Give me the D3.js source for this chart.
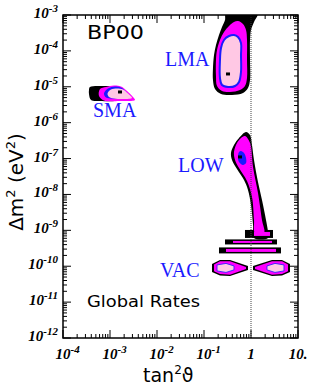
<!DOCTYPE html>
<html>
<head>
<meta charset="utf-8">
<script src="https://cdn.jsdelivr.net/npm/d3@7"></script>
<style>
  body { margin: 0; background: #fff; }
</style>
</head>
<body>
<div class="chart"></div>
<script>
// contour outlines, as [log10 tan^2, log10 dm^2]
const lmaBlack = [[-0.53,-2.95],[0.14,-2.95],[0.064,-3.195],[0,-3.418],[-0.021,-3.696],[-0.021,-4.253],[-0.021,-4.811],[-0.064,-5.033],[-0.170,-5.173],[-0.404,-5.228],[-0.638,-5.201],[-0.766,-5.061],[-0.809,-4.811],[-0.809,-4.476],[-0.787,-4.114],[-0.745,-3.836],[-0.681,-3.557],[-0.617,-3.334],[-0.553,-3.139]];
const lmaMagenta = [[-0.277,-3.167],[-0.170,-3.251],[-0.106,-3.418],[-0.085,-3.696],[-0.085,-4.253],[-0.085,-4.755],[-0.128,-4.978],[-0.234,-5.089],[-0.447,-5.145],[-0.617,-5.117],[-0.723,-4.978],[-0.745,-4.699],[-0.745,-4.253],[-0.723,-3.975],[-0.660,-3.696],[-0.574,-3.474],[-0.468,-3.306],[-0.362,-3.195]];
const lmaPink = [[-0.362,-3.557],[-0.277,-3.613],[-0.213,-3.780],[-0.213,-4.114],[-0.213,-4.588],[-0.255,-4.866],[-0.340,-4.978],[-0.489,-5.006],[-0.617,-4.950],[-0.660,-4.755],[-0.660,-4.253],[-0.638,-3.919],[-0.574,-3.696],[-0.468,-3.585]];

const lowBlack = [[-0.106,-6.259],[-0.021,-6.343],[0.021,-6.621],[0.064,-7.039],[0.149,-7.652],[0.234,-8.153],[0.319,-8.710],[0.362,-9.045],[0.362,-9.212],[0.064,-9.212],[0.043,-8.850],[0,-8.292],[-0.064,-7.875],[-0.149,-7.596],[-0.298,-7.290],[-0.404,-7.039],[-0.426,-6.844],[-0.362,-6.621],[-0.255,-6.426]];
const lowMagenta = [[-0.128,-6.370],[-0.021,-6.565],[0.043,-7.234],[0.149,-7.958],[0.234,-8.710],[0.277,-9.072],[0.085,-9.072],[0.064,-8.710],[0.021,-8.070],[-0.085,-7.624],[-0.255,-7.262],[-0.340,-7.039],[-0.362,-6.816],[-0.298,-6.565],[-0.213,-6.426]];
const lowBlue = [[-0.213,-6.788],[-0.149,-6.844],[-0.106,-6.983],[-0.106,-7.123],[-0.170,-7.178],[-0.255,-7.095],[-0.277,-6.955],[-0.255,-6.816]];

// striped bands under LOW: [log tan^2 from, to, log dm^2 from, to]
const bandsBlack = [[-0.128,0.468,-9.212,-8.990],[-0.553,0.553,-9.393,-9.253],[-0.681,0.638,-9.643,-9.476]];
const bandsMagenta = [[0.064,0.404,-9.156,-9.045],[-0.383,0.447,-9.351,-9.295],[-0.532,0.532,-9.602,-9.518]];

const vacLeftBlack = [[-0.830,-9.936],[-0.660,-9.825],[-0.447,-9.825],[-0.064,-9.992],[-0.064,-10.103],[-0.447,-10.270],[-0.660,-10.256],[-0.830,-10.159]];
const vacLeftMagenta = [[-0.787,-9.950],[-0.660,-9.860],[-0.447,-9.860],[-0.106,-10.020],[-0.106,-10.080],[-0.447,-10.235],[-0.660,-10.220],[-0.787,-10.140]];
const vacLeftPink = [[-0.723,-9.964],[-0.532,-9.922],[-0.362,-9.992],[-0.362,-10.103],[-0.532,-10.173],[-0.723,-10.131]];
const vacRightBlack = [[0.043,-9.992],[0.447,-9.825],[0.660,-9.825],[0.830,-9.936],[0.830,-10.159],[0.660,-10.256],[0.447,-10.270],[0.043,-10.103]];
const vacRightMagenta = [[0.085,-10.020],[0.447,-9.860],[0.660,-9.860],[0.787,-9.950],[0.787,-10.140],[0.660,-10.220],[0.447,-10.235],[0.085,-10.080]];
const vacRightPink = [[0.340,-9.992],[0.510,-9.922],[0.702,-9.964],[0.702,-10.131],[0.510,-10.173],[0.340,-10.103]];

const smaBlack = [[-3.426,-5.006],[-3.128,-4.978],[-2.957,-4.992],[-2.872,-5.033],[-2.745,-5.340],[-2.894,-5.396],[-3.213,-5.396],[-3.404,-5.368],[-3.447,-5.201],[-3.447,-5.089]];
const smaMagenta = [[-3.213,-5.061],[-3.085,-5.006],[-2.915,-4.964],[-2.766,-4.992],[-2.638,-5.117],[-2.511,-5.284],[-2.468,-5.368],[-2.787,-5.396],[-3.128,-5.382],[-3.234,-5.256]];
const smaBlue = [[-3.128,-5.187],[-3.043,-5.047],[-2.894,-4.992],[-2.766,-5.019],[-2.660,-5.145],[-2.596,-5.284],[-2.766,-5.326],[-2.957,-5.326],[-3.085,-5.298]];
const smaPink = [[-3.053,-5.187],[-2.979,-5.075],[-2.851,-5.047],[-2.723,-5.075],[-2.617,-5.187],[-2.532,-5.312],[-2.702,-5.340],[-2.915,-5.326],[-3.021,-5.284]];

// best fit points (LMA, LOW, SMA)
const bestFits = [[-0.489,-4.643],[-0.234,-6.955],[-2.787,-5.145]];

const xTickLabels = [["10","-4"],["10","-3"],["10","-2"],["10","-1"],["1",""],["10.",""]];
const yTickExps = [-3,-4,-5,-6,-7,-8,-9,-10,-11,-12];

const W = 313, H = 388;
const pLeft = 63, pRight = 298, pTop = 15, pBottom = 338;

const x = d3.scaleLog().domain([1e-4, 10]).range([pLeft, pRight]);
const y = d3.scaleLog().domain([1e-12, 1e-3]).range([pBottom, pTop]);

const svg = d3.select(".chart").append("svg")
  .attr("width", W)
  .attr("height", H);

svg.append("defs").append("clipPath").attr("id", "plotClip")
  .append("rect")
  .attr("x", pLeft).attr("y", pTop)
  .attr("width", pRight - pLeft).attr("height", pBottom - pTop);

const plot = svg.append("g").attr("clip-path", "url(#plotClip)");

const shape = d3.line()
  .x(d => x(10 ** d[0]))
  .y(d => y(10 ** d[1]))
  .curve(d3.curveCatmullRomClosed.alpha(0.5));
const sharp = d3.line()
  .x(d => x(10 ** d[0]))
  .y(d => y(10 ** d[1]))
  .curve(d3.curveLinearClosed);

const BLACK = "#000", MAG = "#ff00ff", BLUE = "#1a1aff", PINK = "#ffc8e4";

function blob(pts, fill, stroke, sw, gen) {
  plot.append("path")
    .attr("d", (gen || shape)(pts))
    .attr("fill", fill)
    .attr("stroke", stroke || "none")
    .attr("stroke-width", sw || 0);
}

function bands(list, fill) {
  plot.append("g").selectAll("rect")
    .data(list)
    .enter().append("rect")
    .attr("x", d => x(10 ** d[0]))
    .attr("width", d => x(10 ** d[1]) - x(10 ** d[0]))
    .attr("y", d => y(10 ** d[3]))
    .attr("height", d => y(10 ** d[2]) - y(10 ** d[3]))
    .attr("fill", fill);
}

// SMA
blob(smaBlack, BLACK);
blob(smaMagenta, MAG);
blob(smaBlue, BLUE);
blob(smaPink, PINK);

// LMA
blob(lmaBlack, BLACK);
blob(lmaMagenta, MAG);
blob(lmaPink, PINK, BLUE, 2);

// LOW and the stripes below it
bands(bandsBlack, BLACK);
blob(lowBlack, BLACK);
blob(lowMagenta, MAG);
blob(lowBlue, BLUE);
bands(bandsMagenta, MAG);

// VAC islands
blob(vacLeftBlack, BLACK, null, 0, sharp);
blob(vacLeftMagenta, MAG, null, 0, sharp);
blob(vacLeftPink, PINK, BLUE, 0.8, sharp);
blob(vacRightBlack, BLACK, null, 0, sharp);
blob(vacRightMagenta, MAG, null, 0, sharp);
blob(vacRightPink, PINK, BLUE, 0.8, sharp);

// tan^2 = 1 dotted line
plot.append("line")
  .attr("x1", x(1)).attr("x2", x(1))
  .attr("y1", pTop).attr("y2", pBottom)
  .attr("stroke", "#444")
  .attr("stroke-width", 1)
  .attr("stroke-dasharray", "1,1");

// best fit dots
plot.selectAll("rect.fit")
  .data(bestFits)
  .enter().append("rect")
  .attr("class", "fit")
  .attr("x", d => x(10 ** d[0]) - 2)
  .attr("y", d => y(10 ** d[1]) - 1.5)
  .attr("width", 4)
  .attr("height", 3)
  .attr("fill", BLACK);

// frame
svg.append("rect")
  .attr("x", pLeft).attr("y", pTop)
  .attr("width", pRight - pLeft).attr("height", pBottom - pTop)
  .attr("fill", "none")
  .attr("stroke", "#000")
  .attr("stroke-width", 1.5);

// ticks on all four sides, pointing in
const isMajor = v => Math.abs(Math.log10(v) - Math.round(Math.log10(v))) < 1e-6;
const ticks = svg.append("g").attr("stroke", "#000").attr("stroke-width", 1);
x.ticks().forEach(v => {
  const len = isMajor(v) ? 8 : 4;
  ticks.append("line").attr("x1", x(v)).attr("x2", x(v)).attr("y1", pBottom).attr("y2", pBottom - len);
  ticks.append("line").attr("x1", x(v)).attr("x2", x(v)).attr("y1", pTop).attr("y2", pTop + len);
});
y.ticks().forEach(v => {
  const len = isMajor(v) ? 8 : 4;
  ticks.append("line").attr("x1", pLeft).attr("x2", pLeft + len).attr("y1", y(v)).attr("y2", y(v));
  ticks.append("line").attr("x1", pRight).attr("x2", pRight - len).attr("y1", y(v)).attr("y2", y(v));
});

// tick labels: bold italic serif with superscript
const tickFont = "'Liberation Serif', 'Times New Roman', serif";
function label(g, txt, size) {
  return g.append("text")
    .attr("font-family", tickFont)
    .attr("font-weight", "bold")
    .attr("font-style", "italic")
    .attr("font-size", size)
    .attr("fill", "#000")
    .text(txt);
}

const tl = svg.append("g");
yTickExps.forEach(e => {
  const yy = y(10 ** e) + 3;
  const sup = label(tl, String(e), 11).attr("x", 58).attr("y", yy - 6).attr("text-anchor", "end");
  const w = sup.node().getComputedTextLength();
  label(tl, "10", 15).attr("x", 58 - w).attr("y", yy).attr("text-anchor", "end");
});
xTickLabels.forEach((t, i) => {
  const xx = x(10 ** (i - 4));
  const base = label(tl, t[0], 15).attr("x", xx).attr("y", 359).attr("text-anchor", "middle");
  const bw = base.node().getComputedTextLength();
  if (t[1]) label(tl, t[1], 11).attr("x", xx + bw / 2).attr("y", 353);
});

// axis titles
const sans = "'DejaVu Sans', sans-serif";
const xt = svg.append("text")
  .attr("x", 143).attr("y", 382)
  .attr("font-family", sans).attr("font-size", 19).attr("fill", "#000");
xt.append("tspan").text("tan");
xt.append("tspan").attr("font-size", 12).attr("dy", -8).text("2");
xt.append("tspan").attr("dy", 8).text("ϑ");

const yt = svg.append("text")
  .attr("transform", "translate(23,182) rotate(-90)")
  .attr("text-anchor", "middle")
  .attr("font-family", sans).attr("font-size", 20).attr("fill", "#000");
yt.append("tspan").text("Δm");
yt.append("tspan").attr("font-size", 13).attr("dy", -8).text("2");
yt.append("tspan").attr("dy", 8).text(" (eV");
yt.append("tspan").attr("font-size", 13).attr("dy", -8).text("2");
yt.append("tspan").attr("dy", 8).text(")");

// panel texts
svg.append("text")
  .attr("x", 87).attr("y", 39)
  .attr("font-family", sans).attr("font-size", 19)
  .attr("textLength", 57).attr("lengthAdjust", "spacingAndGlyphs")
  .text("BP00");
svg.append("text")
  .attr("x", 87).attr("y", 307)
  .attr("font-family", sans).attr("font-size", 15)
  .attr("textLength", 113).attr("lengthAdjust", "spacingAndGlyphs")
  .text("Global Rates");

// region names
const serif = "'Liberation Serif', 'Times New Roman', serif";
[["LMA", 165, 66], ["SMA", 93, 117], ["LOW", 178, 172], ["VAC", 160, 277]].forEach(r => {
  svg.append("text")
    .attr("x", r[1]).attr("y", r[2])
    .attr("font-family", serif).attr("font-size", 20)
    .attr("fill", BLUE)
    .text(r[0]);
});
</script>
</body>
</html>
